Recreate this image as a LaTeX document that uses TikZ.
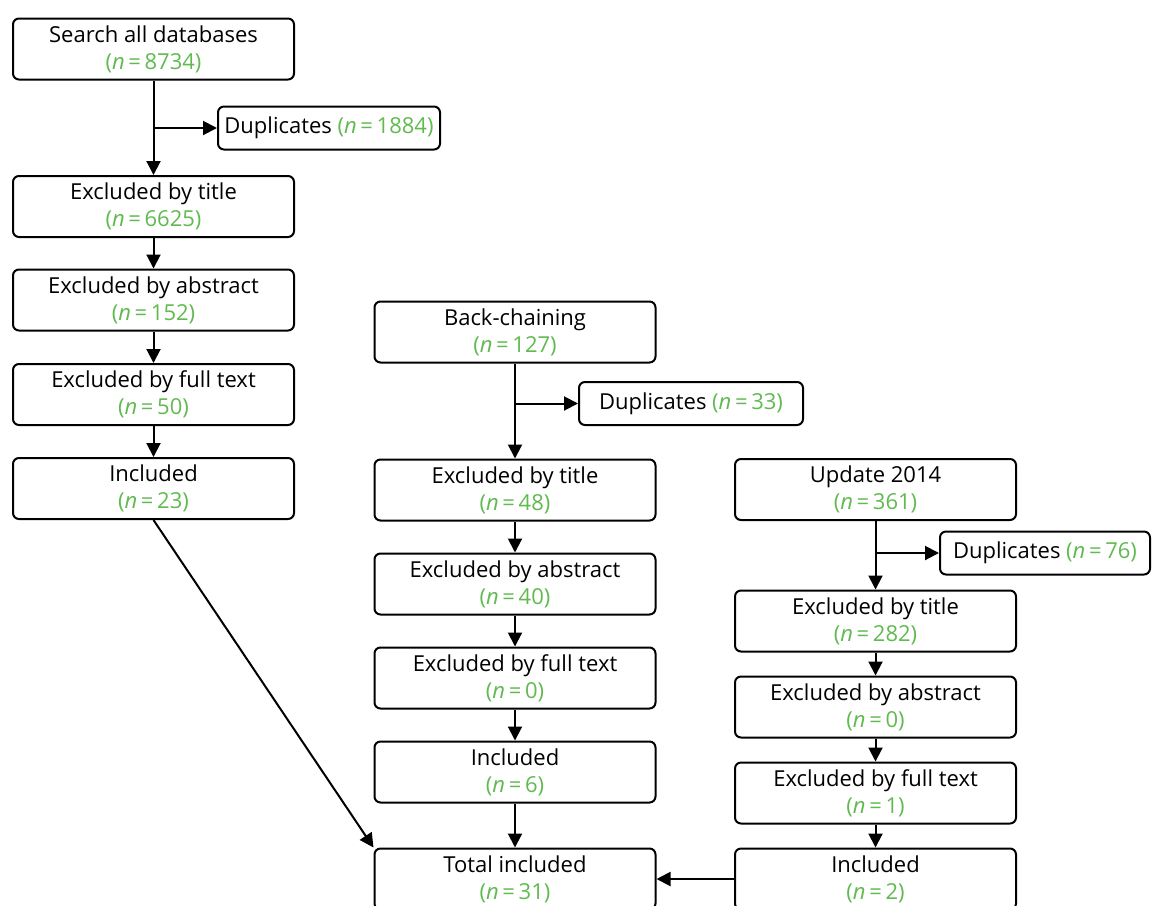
\documentclass[tikz,border=0pt]{standalone}
\usepackage{fontspec}
\setmainfont{Open Sans}
\usetikzlibrary{positioning,arrows.meta}
\definecolor{nGreen}{RGB}{96,186,80}
\newcommand{\cnt}[1]{{\color{nGreen}(\textit{n}\,=\,#1)}}

\begin{document}
\begin{tikzpicture}[x=0.5pt, y=-0.5pt, line width=1pt,
  >={Triangle[length=7pt,width=7pt]},
  stage/.style={draw, rounded corners=3pt, minimum width=140.5pt, minimum height=30.5pt,
    inner sep=0pt, align=center, execute at begin node={\rule{0pt}{17pt}},
    font=\fontsize{11}{13.5}\selectfont},
  dup/.style={draw, rounded corners=3pt, minimum height=21.5pt, inner sep=0pt,
    font=\fontsize{11}{13.5}\selectfont}]
\useasboundingbox (0,0) rectangle (1154,905);
\node[stage] (s1) at (153.5,49) {Search all databases\\\cnt{8734}};
\node[dup, minimum width=111pt] (d1) at (329,128) {Duplicates \cnt{1884}};
\node[stage] (t1) at (153.5,206.5) {Excluded by title\\\cnt{6625}};
\node[stage] (a1) at (153.5,300) {Excluded by abstract\\\cnt{152}};
\node[stage] (f1) at (153.5,394.5) {Excluded by full text\\\cnt{50}};
\node[stage] (i1) at (153.5,488.5) {Included\\\cnt{23}};

\node[stage] (b) at (515,332) {Back-chaining\\\cnt{127}};
\node[dup, minimum width=112pt] (d2) at (691,403.5) {Duplicates \cnt{33}};
\node[stage] (t2) at (515,490) {Excluded by title\\\cnt{48}};
\node[stage] (a2) at (515,584) {Excluded by abstract\\\cnt{40}};
\node[stage] (f2) at (515,678) {Excluded by full text\\\cnt{0}};
\node[stage] (i2) at (515,772) {Included\\\cnt{6}};
\node[stage] (tot) at (515,879) {Total included\\\cnt{31}};

\node[stage] (u) at (875.5,489.5) {Update 2014\\\cnt{361}};
\node[dup, minimum width=105pt] (d3) at (1045,553) {Duplicates \cnt{76}};
\node[stage] (t3) at (875.5,621) {Excluded by title\\\cnt{282}};
\node[stage] (a3) at (875.5,707) {Excluded by abstract\\\cnt{0}};
\node[stage] (f3) at (875.5,793) {Excluded by full text\\\cnt{1}};
\node[stage] (i3) at (875.5,879) {Included\\\cnt{2}};

\path[->]
(s1) edge (t1)
(t1) edge (a1)
(a1) edge (f1)
(f1) edge (i1)
(s1 |- d1) edge (d1)
(i1.south) edge (tot.north west);
\path[->]
(b) edge (t2)
(t2) edge (a2)
(a2) edge (f2)
(f2) edge (i2)
(i2) edge (tot)
(b |- d2) edge (d2);
\path[->]
(u) edge (t3)
(t3) edge (a3)
(a3) edge (f3)
(f3) edge (i3)
(i3) edge (tot)
(u |- d3) edge (d3);
\end{tikzpicture}
\end{document}
